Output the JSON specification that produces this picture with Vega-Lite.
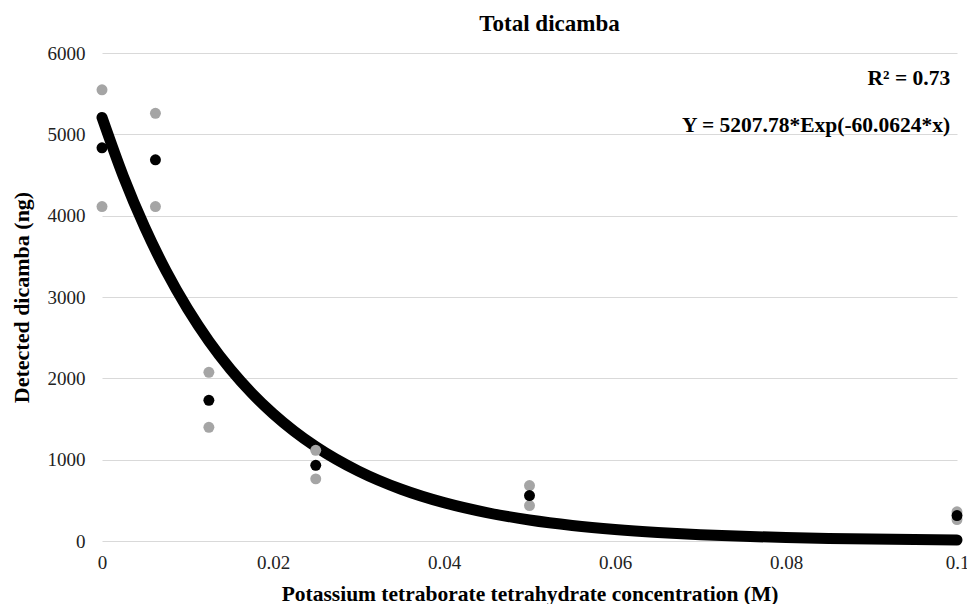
{
  "$schema": "https://vega.github.io/schema/vega-lite/v6.json",
  "autosize": {"type": "none"},
  "width": 855,
  "height": 488,
  "padding": {"left": 102, "top": 53, "right": 10, "bottom": 63},
  "background": "white",
  "config": {
    "view": {"stroke": null},
    "font": "Liberation Serif, Times New Roman, serif",
    "axis": {"labelFont": "Liberation Serif, Times New Roman, serif", "titleFont": "Liberation Serif, Times New Roman, serif", "labelFontSize": 19, "labelColor": "#222", "titleColor": "#000", "titleFontSize": 21.5, "titleFontWeight": "bold", "gridColor": "#d9d9d9", "gridWidth": 1.2, "domain": false, "ticks": false, "labelFlush": false}
  },
  "title": {"text": "Total dicamba", "font": "Liberation Serif, Times New Roman, serif", "fontSize": 23, "fontWeight": "bold", "color": "#000", "offset": 8, "anchor": "middle", "dx": 20},
  "datasets": {
    "points": [
      {"conc": 0, "dicamba": 5547, "kind": "replicate"},
      {"conc": 0, "dicamba": 4112, "kind": "replicate"},
      {"conc": 0, "dicamba": 4834, "kind": "mean"},
      {"conc": 0.00625, "dicamba": 5258, "kind": "replicate"},
      {"conc": 0.00625, "dicamba": 4112, "kind": "replicate"},
      {"conc": 0.00625, "dicamba": 4687, "kind": "mean"},
      {"conc": 0.0125, "dicamba": 2074, "kind": "replicate"},
      {"conc": 0.0125, "dicamba": 1398, "kind": "replicate"},
      {"conc": 0.0125, "dicamba": 1730, "kind": "mean"},
      {"conc": 0.025, "dicamba": 1115, "kind": "replicate"},
      {"conc": 0.025, "dicamba": 764, "kind": "replicate"},
      {"conc": 0.025, "dicamba": 931, "kind": "mean"},
      {"conc": 0.05, "dicamba": 682, "kind": "replicate"},
      {"conc": 0.05, "dicamba": 436, "kind": "replicate"},
      {"conc": 0.05, "dicamba": 559, "kind": "mean"},
      {"conc": 0.1, "dicamba": 359, "kind": "replicate"},
      {"conc": 0.1, "dicamba": 264, "kind": "replicate"},
      {"conc": 0.1, "dicamba": 313, "kind": "mean"}
    ],
    "fit": [
      {"conc": 0, "dicamba": 5207.8},
      {"conc": 0.0025, "dicamba": 4481.7},
      {"conc": 0.005, "dicamba": 3856.8},
      {"conc": 0.0075, "dicamba": 3319.1},
      {"conc": 0.01, "dicamba": 2856.3},
      {"conc": 0.0125, "dicamba": 2458.1},
      {"conc": 0.015, "dicamba": 2115.3},
      {"conc": 0.0175, "dicamba": 1820.4},
      {"conc": 0.02, "dicamba": 1566.6},
      {"conc": 0.0225, "dicamba": 1348.2},
      {"conc": 0.025, "dicamba": 1160.2},
      {"conc": 0.03, "dicamba": 859.2},
      {"conc": 0.035, "dicamba": 636.3},
      {"conc": 0.04, "dicamba": 471.3},
      {"conc": 0.045, "dicamba": 349.0},
      {"conc": 0.05, "dicamba": 258.5},
      {"conc": 0.055, "dicamba": 191.4},
      {"conc": 0.06, "dicamba": 141.8},
      {"conc": 0.065, "dicamba": 105.0},
      {"conc": 0.07, "dicamba": 77.8},
      {"conc": 0.075, "dicamba": 57.6},
      {"conc": 0.08, "dicamba": 42.6},
      {"conc": 0.085, "dicamba": 31.6},
      {"conc": 0.09, "dicamba": 23.4},
      {"conc": 0.095, "dicamba": 17.3},
      {"conc": 0.1, "dicamba": 12.8}
    ],
    "annot": [{"id": 1}]
  },
  "layer": [
    {
      "data": {"name": "fit"},
      "mark": {"type": "line", "color": "#000000", "strokeWidth": 11, "strokeCap": "round", "interpolate": "monotone", "clip": false},
      "encoding": {
        "x": {"field": "conc", "type": "quantitative", "scale": {"domain": [0, 0.1], "nice": false}, "axis": {"values": [0, 0.02, 0.04, 0.06, 0.08, 0.1], "format": "~g", "grid": false, "labelPadding": 12, "title": "Potassium tetraborate tetrahydrate concentration (M)", "titlePadding": 11}},
        "y": {"field": "dicamba", "type": "quantitative", "scale": {"domain": [0, 6000], "nice": false}, "axis": {"values": [0, 1000, 2000, 3000, 4000, 5000, 6000], "format": "d", "labelPadding": 17, "title": "Detected dicamba (ng)", "titleFontSize": 22, "titlePadding": 14}}
      }
    },
    {
      "data": {"name": "points"},
      "mark": {"type": "point", "filled": true, "opacity": 1, "size": 120, "clip": false},
      "encoding": {
        "x": {"field": "conc", "type": "quantitative"},
        "y": {"field": "dicamba", "type": "quantitative"},
        "color": {"field": "kind", "type": "nominal", "scale": {"domain": ["replicate", "mean"], "range": ["#a5a5a5", "#000000"]}, "legend": null},
        "order": {"field": "kind", "sort": "descending"}
      }
    },
    {
      "data": {"name": "annot"},
      "mark": {"type": "text", "text": "R² = 0.73", "align": "right", "baseline": "middle", "font": "Liberation Serif, Times New Roman, serif", "fontSize": 21.5, "fontWeight": "bold", "color": "#000"},
      "encoding": {"x": {"datum": 0.0992}, "y": {"datum": 5685}}
    },
    {
      "data": {"name": "annot"},
      "mark": {"type": "text", "text": "Y = 5207.78*Exp(-60.0624*x)", "align": "right", "baseline": "middle", "font": "Liberation Serif, Times New Roman, serif", "fontSize": 21.5, "fontWeight": "bold", "color": "#000"},
      "encoding": {"x": {"datum": 0.0992}, "y": {"datum": 5108}}
    }
  ]
}
